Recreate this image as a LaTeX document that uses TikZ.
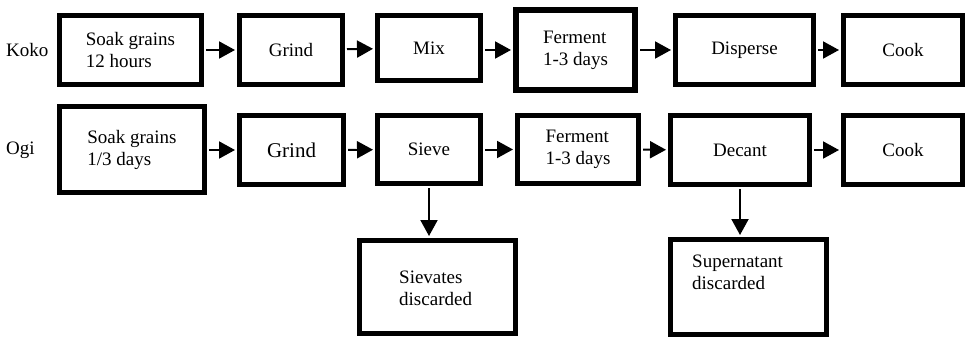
\documentclass[tikz,border=0pt]{standalone}
\usepackage{fontspec}
\setmainfont{Liberation Serif}
\newfontfamily\boxfont{Liberation Serif}
\usetikzlibrary{arrows.meta}
\begin{document}
\begin{tikzpicture}[x=1pt,y=-1pt,
  box/.style={draw, line width=5pt, inner sep=0pt, align=left,
    font=\boxfont\fontsize{19}{22}\selectfont},
  lbl/.style={inner sep=0pt, align=left, font=\boxfont\fontsize{19}{22}\selectfont},
  arr/.style={line width=2pt, -{Triangle[length=16pt,width=17pt]}, shorten >=2pt, shorten <=2pt}]
\useasboundingbox (0,0) rectangle (965,337);
% row labels
\node[lbl, anchor=west] (koko) at (6,50) {Koko};
\node[lbl, anchor=west] (ogi) at (6,150) {Ogi};
% Koko row
\node[box, minimum width=142pt, minimum height=69pt] (a1) at (130.5,50) {Soak grains\\12 hours};
\node[box, minimum width=103pt, minimum height=69pt] (a2) at (291,50) {Grind};
\node[box, minimum width=103pt, minimum height=65pt] (a3) at (429,48) {Mix};
\node[box, line width=6pt, minimum width=119pt, minimum height=80pt] (a4) at (575.5,50) {Ferment\\1-3 days};
\node[box, minimum width=138pt, minimum height=69pt] (a5) at (744.5,50) {Disperse};
\node[box, minimum width=119pt, minimum height=69pt] (a6) at (903,50) {Cook};
% Ogi row
\node[box, minimum width=145pt, minimum height=86pt] (b1) at (132,149.5) {Soak grains\\1/3 days};
\node[box, minimum width=104pt, minimum height=69pt, font=\boxfont\fontsize{21}{24}\selectfont] (b2) at (291.5,150) {Grind};
\node[box, minimum width=103pt, minimum height=68pt] (b3) at (429,149.5) {Sieve};
\node[box, minimum width=121pt, minimum height=68pt] (b4) at (578,149.5) {Ferment\\1-3 days};
\node[box, minimum width=139pt, minimum height=69pt] (b5) at (740,150) {Decant};
\node[box, minimum width=119pt, minimum height=69pt] (b6) at (903,150) {Cook};
% discard boxes
\node[box, minimum width=156pt, minimum height=93pt] (c1) at (437.5,287) {};
\node[lbl, anchor=west] (c1t) at (399,288) {Sievates\\discarded};
\node[box, minimum width=156pt, minimum height=95pt] (c2) at (748.5,287) {};
\node[lbl, anchor=west] (c2t) at (692,272) {Supernatant\\discarded};
% arrows
\draw[arr] (a1) -- (a2);
\draw[arr] (a2) -- (a3);
\draw[arr] (a3.east |- a1.east) -- (a4.west |- a1.east);
\draw[arr] (a4) -- (a5);
\draw[arr] (a5) -- (a6);
\draw[arr] (b1.east |- b2.east) -- (b2);
\draw[arr] (b2) -- (b3);
\draw[arr] (b3) -- (b4);
\draw[arr] (b4) -- (b5);
\draw[arr] (b5) -- (b6);
\draw[arr] (b3.south) -- (b3.south |- c1.north);
\draw[arr] (b5.south) -- (b5.south |- c2.north);
\end{tikzpicture}
\end{document}
